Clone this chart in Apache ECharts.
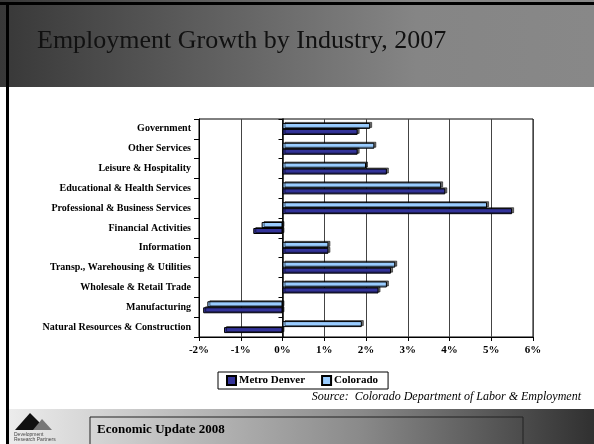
<!DOCTYPE html>
<html>
<head>
<meta charset="utf-8">
<script src="https://cdn.jsdelivr.net/npm/echarts@6/dist/echarts.min.js"></script>
<style>
  html, body { margin: 0; padding: 0; background: #fff; }
  #chart { width: 594px; height: 444px; }
</style>
</head>
<body>
<div id="chart"></div>
<script>
// categories, bottom to top as drawn
var industries = [
  'Natural Resources & Construction',
  'Manufacturing',
  'Wholesale & Retail Trade',
  'Transp., Warehousing & Utilities',
  'Information',
  'Financial Activities',
  'Professional & Business Services',
  'Educational & Health Services',
  'Leisure & Hospitality',
  'Other Services',
  'Government'
];
// growth in percent
var metroDenver = [-1.4, -1.9, 2.3, 2.6, 1.1, -0.7, 5.5, 3.9, 2.5, 1.8, 1.8];
var colorado    = [1.9, -1.8, 2.5, 2.7, 1.1, -0.5, 4.9, 3.8, 2.0, 2.2, 2.1];
var tickLabels  = ['-2%', '-1%', '0%', '1%', '2%', '3%', '4%', '5%', '6%'];

var serif = '"Liberation Serif", "DejaVu Serif", serif';

var chart = echarts.init(document.getElementById('chart'));

function barStyle(c) {
  return {
    color: c,
    borderColor: '#000',
    borderWidth: 1,
    shadowColor: 'rgba(0,0,0,0.55)',
    shadowBlur: 0,
    shadowOffsetX: 2,
    shadowOffsetY: -1
  };
}

chart.setOption({
  animation: false,
  graphic: [
    // title band
    { type: 'rect', shape: { x: 0, y: 0, width: 594, height: 87 }, z: 0,
      style: { fill: new echarts.graphic.LinearGradient(0, 0, 1, 0, [
        { offset: 0, color: '#383838' }, { offset: 0.7, color: '#858585' }, { offset: 1, color: '#888888' }]) } },
    { type: 'rect', shape: { x: 0, y: 2, width: 594, height: 3 }, style: { fill: '#000' }, z: 1 },
    { type: 'rect', shape: { x: 6, y: 2, width: 3, height: 442 }, style: { fill: '#000' }, z: 1 },
    { type: 'text', left: 37, top: 28, z: 2,
      style: { text: 'Employment Growth by Industry, 2007', fill: '#111', font: '26px ' + serif } },
    // source
    { type: 'text', right: 13, top: 391, z: 2,
      style: { text: 'Source:  Colorado Department of Labor & Employment', fill: '#000', font: 'italic 12px ' + serif } },
    // footer band
    { type: 'rect', shape: { x: 9, y: 409, width: 585, height: 35 }, z: 0,
      style: { fill: new echarts.graphic.LinearGradient(0, 0, 1, 0, [
        { offset: 0, color: '#ececec' }, { offset: 0.15, color: '#d4d4d4' }, { offset: 0.6, color: '#8a8a8a' }, { offset: 1, color: '#303030' }]) } },
    { type: 'rect', shape: { x: 90, y: 417, width: 433, height: 30 }, z: 1,
      style: { fill: 'none', stroke: '#222', lineWidth: 1 } },
    { type: 'text', left: 97, top: 423, z: 2,
      style: { text: 'Economic Update 2008', fill: '#000', font: 'bold 13px ' + serif } },
    // logo
    { type: 'polygon', shape: { points: [[15, 430], [30, 413], [40, 423], [36, 430]] }, style: { fill: '#111' }, z: 2 },
    { type: 'polygon', shape: { points: [[33, 430], [42, 419], [52, 430]] }, style: { fill: '#777' }, z: 2 },
    { type: 'text', left: 14, top: 432, z: 2,
      style: { text: 'Development\nResearch Partners', fill: '#444', font: '5px sans-serif', lineHeight: 5 } }
  ],
  legend: {
    data: ['Metro Denver', 'Colorado'],
    left: 218, top: 372,
    width: 172,
    padding: [3, 10, 3, 8],
    itemGap: 16,
    itemWidth: 9, itemHeight: 9,
    icon: 'rect',
    borderColor: '#000', borderWidth: 1,
    textStyle: { fontFamily: serif, fontWeight: 'bold', fontSize: 11, color: '#000', padding: [0, 0, 0, -2] }
  },
  grid: { left: 199, right: 61, top: 119, bottom: 107, show: true, borderColor: '#000', borderWidth: 1 },
  xAxis: {
    type: 'value', min: -2, max: 6, interval: 1,
    axisLine: { show: true, onZero: false, lineStyle: { color: '#000' } },
    axisTick: { show: true, length: 4, lineStyle: { color: '#000' } },
    axisLabel: { formatter: function (v) { return tickLabels[Math.round(v) + 2]; }, fontFamily: serif, fontWeight: 'bold', fontSize: 11, color: '#000', margin: 8 },
    splitLine: { show: true, lineStyle: { color: '#444', width: 1 } }
  },
  yAxis: [{
    type: 'category', data: industries,
    axisLine: { show: true, onZero: false, lineStyle: { color: '#000' } },
    axisTick: { show: true, length: 5, lineStyle: { color: '#000' } },
    axisLabel: { fontFamily: serif, fontWeight: 'bold', fontSize: 10, color: '#000', margin: 8 }
  }, {
    type: 'category', data: industries, position: 'left',
    axisLine: { show: true, onZero: true, lineStyle: { color: '#000', width: 1.5 } },
    axisTick: { show: true, length: 4, lineStyle: { color: '#000' } },
    axisLabel: { show: false }
  }],
  series: [
    { name: 'Colorado', type: 'bar', data: colorado, barWidth: 6, barGap: '0%', itemStyle: barStyle('#99ccff') },
    { name: 'Metro Denver', type: 'bar', data: metroDenver, barWidth: 6, barGap: '0%', itemStyle: barStyle('#333399') }
  ]
});
</script>
</body>
</html>
